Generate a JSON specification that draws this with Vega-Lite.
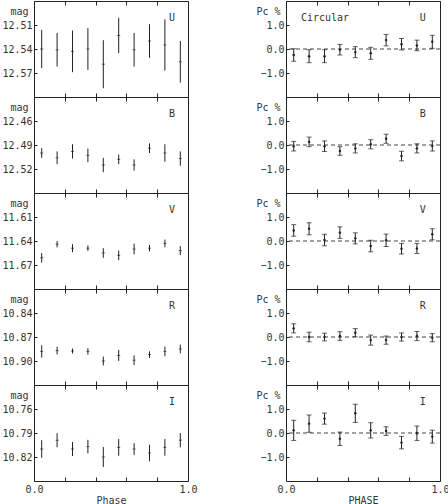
{
"$schema":"https://vega.github.io/schema/vega-lite/v6.json",
"padding":{"left":1,"top":0,"right":0,"bottom":0},
"background":"white",
"datasets":{
"phot":[
{"band":"U","phase":0.05,"mag":12.540,"err":0.024},
{"band":"U","phase":0.15,"mag":12.541,"err":0.021},
{"band":"U","phase":0.25,"mag":12.543,"err":0.026},
{"band":"U","phase":0.35,"mag":12.540,"err":0.026},
{"band":"U","phase":0.45,"mag":12.559,"err":0.030},
{"band":"U","phase":0.55,"mag":12.523,"err":0.022},
{"band":"U","phase":0.65,"mag":12.541,"err":0.021},
{"band":"U","phase":0.75,"mag":12.530,"err":0.021},
{"band":"U","phase":0.85,"mag":12.535,"err":0.032},
{"band":"U","phase":0.95,"mag":12.556,"err":0.026},
{"band":"B","phase":0.05,"mag":12.500,"err":0.006},
{"band":"B","phase":0.15,"mag":12.506,"err":0.008},
{"band":"B","phase":0.25,"mag":12.498,"err":0.009},
{"band":"B","phase":0.35,"mag":12.503,"err":0.0085},
{"band":"B","phase":0.45,"mag":12.515,"err":0.009},
{"band":"B","phase":0.55,"mag":12.508,"err":0.006},
{"band":"B","phase":0.65,"mag":12.515,"err":0.007},
{"band":"B","phase":0.75,"mag":12.494,"err":0.006},
{"band":"B","phase":0.85,"mag":12.500,"err":0.011},
{"band":"B","phase":0.95,"mag":12.507,"err":0.009},
{"band":"V","phase":0.05,"mag":11.661,"err":0.006},
{"band":"V","phase":0.15,"mag":11.644,"err":0.004},
{"band":"V","phase":0.25,"mag":11.649,"err":0.005},
{"band":"V","phase":0.35,"mag":11.649,"err":0.0035},
{"band":"V","phase":0.45,"mag":11.655,"err":0.006},
{"band":"V","phase":0.55,"mag":11.658,"err":0.006},
{"band":"V","phase":0.65,"mag":11.650,"err":0.0067},
{"band":"V","phase":0.75,"mag":11.649,"err":0.004},
{"band":"V","phase":0.85,"mag":11.643,"err":0.0048},
{"band":"V","phase":0.95,"mag":11.652,"err":0.0056},
{"band":"R","phase":0.05,"mag":10.888,"err":0.0077},
{"band":"R","phase":0.15,"mag":10.887,"err":0.0048},
{"band":"R","phase":0.25,"mag":10.8875,"err":0.003},
{"band":"R","phase":0.35,"mag":10.888,"err":0.004},
{"band":"R","phase":0.45,"mag":10.900,"err":0.0056},
{"band":"R","phase":0.55,"mag":10.893,"err":0.0069},
{"band":"R","phase":0.65,"mag":10.899,"err":0.006},
{"band":"R","phase":0.75,"mag":10.892,"err":0.004},
{"band":"R","phase":0.85,"mag":10.888,"err":0.006},
{"band":"R","phase":0.95,"mag":10.885,"err":0.0054},
{"band":"I","phase":0.05,"mag":10.810,"err":0.011},
{"band":"I","phase":0.15,"mag":10.799,"err":0.0088},
{"band":"I","phase":0.25,"mag":10.810,"err":0.0088},
{"band":"I","phase":0.35,"mag":10.807,"err":0.0085},
{"band":"I","phase":0.45,"mag":10.820,"err":0.0125},
{"band":"I","phase":0.55,"mag":10.808,"err":0.0104},
{"band":"I","phase":0.65,"mag":10.810,"err":0.0073},
{"band":"I","phase":0.75,"mag":10.815,"err":0.0104},
{"band":"I","phase":0.85,"mag":10.808,"err":0.0104},
{"band":"I","phase":0.95,"mag":10.799,"err":0.009}
],
"pol":[
{"band":"U","phase":0.05,"pc":-0.25,"err":0.26},
{"band":"U","phase":0.15,"pc":-0.30,"err":0.27},
{"band":"U","phase":0.25,"pc":-0.30,"err":0.27},
{"band":"U","phase":0.35,"pc":-0.03,"err":0.22},
{"band":"U","phase":0.45,"pc":-0.13,"err":0.23},
{"band":"U","phase":0.55,"pc":-0.18,"err":0.25},
{"band":"U","phase":0.65,"pc":0.37,"err":0.24},
{"band":"U","phase":0.75,"pc":0.20,"err":0.24},
{"band":"U","phase":0.85,"pc":0.15,"err":0.22},
{"band":"U","phase":0.95,"pc":0.30,"err":0.27},
{"band":"B","phase":0.05,"pc":-0.05,"err":0.20},
{"band":"B","phase":0.15,"pc":0.13,"err":0.20},
{"band":"B","phase":0.25,"pc":-0.05,"err":0.22},
{"band":"B","phase":0.35,"pc":-0.25,"err":0.18},
{"band":"B","phase":0.45,"pc":-0.14,"err":0.19},
{"band":"B","phase":0.55,"pc":0.03,"err":0.19},
{"band":"B","phase":0.65,"pc":0.26,"err":0.19},
{"band":"B","phase":0.75,"pc":-0.46,"err":0.20},
{"band":"B","phase":0.85,"pc":-0.14,"err":0.19},
{"band":"B","phase":0.95,"pc":-0.04,"err":0.21},
{"band":"V","phase":0.05,"pc":0.44,"err":0.24},
{"band":"V","phase":0.15,"pc":0.51,"err":0.25},
{"band":"V","phase":0.25,"pc":0.04,"err":0.24},
{"band":"V","phase":0.35,"pc":0.35,"err":0.24},
{"band":"V","phase":0.45,"pc":0.11,"err":0.23},
{"band":"V","phase":0.55,"pc":-0.21,"err":0.24},
{"band":"V","phase":0.65,"pc":0.03,"err":0.26},
{"band":"V","phase":0.75,"pc":-0.32,"err":0.22},
{"band":"V","phase":0.85,"pc":-0.31,"err":0.21},
{"band":"V","phase":0.95,"pc":0.28,"err":0.23},
{"band":"R","phase":0.05,"pc":0.36,"err":0.19},
{"band":"R","phase":0.15,"pc":0.00,"err":0.20},
{"band":"R","phase":0.25,"pc":0.00,"err":0.16},
{"band":"R","phase":0.35,"pc":0.04,"err":0.18},
{"band":"R","phase":0.45,"pc":0.18,"err":0.17},
{"band":"R","phase":0.55,"pc":-0.13,"err":0.21},
{"band":"R","phase":0.65,"pc":-0.13,"err":0.17},
{"band":"R","phase":0.75,"pc":0.00,"err":0.17},
{"band":"R","phase":0.85,"pc":0.04,"err":0.19},
{"band":"R","phase":0.95,"pc":-0.03,"err":0.17},
{"band":"I","phase":0.05,"pc":0.11,"err":0.42},
{"band":"I","phase":0.15,"pc":0.39,"err":0.36},
{"band":"I","phase":0.25,"pc":0.60,"err":0.23},
{"band":"I","phase":0.35,"pc":-0.24,"err":0.28},
{"band":"I","phase":0.45,"pc":0.82,"err":0.38},
{"band":"I","phase":0.55,"pc":0.11,"err":0.32},
{"band":"I","phase":0.65,"pc":0.08,"err":0.18},
{"band":"I","phase":0.75,"pc":-0.40,"err":0.26},
{"band":"I","phase":0.85,"pc":-0.01,"err":0.30},
{"band":"I","phase":0.95,"pc":-0.15,"err":0.27}
]
},
"config":{
"view":{"stroke":"#222","strokeWidth":1},
"axis":{"labelFont":"DejaVu Sans Mono","labelFontSize":10,"labelColor":"#333","titleFont":"DejaVu Sans Mono","titleFontSize":10,"titleFontWeight":"normal","titleColor":"#333","domain":false,"grid":false,"tickColor":"#222","labelFlush":false,"labelOverlap":false},
"axisX":{"ticks":false,"grid":true,"gridDash":[4,88],"gridColor":"#222","gridOpacity":1,"gridWidth":1,"values":[0,0.1,0.2,0.3,0.4,0.5,0.6,0.7,0.8,0.9,1],"labels":false,"title":null},
"axisY":{"tickSize":-3,"labelPadding":5,"titleAngle":0,"titleAlign":"right","titleBaseline":"middle","titleX":-6,"titleY":10},
"text":{"font":"DejaVu Sans Mono","fontSize":10,"color":"#333"}
},
"spacing":57,
"hconcat":[
{"spacing":0,"bounds":"flush","vconcat":[
{"width":154,"height":96,"data":{"name":"phot"},"transform":[{"filter":"datum.band==='U'"}],
"layer":[
{"mark":{"type":"tick","orient":"horizontal","size":3,"thickness":1,"color":"#222"},
"encoding":{"x":{"field":"phase","type":"quantitative","scale":{"domain":[0,1]},"axis":{"title":null}},
"y":{"field":"mag","type":"quantitative","scale":{"domain":[12.48,12.6],"reverse":true},"axis":{"values":[12.51,12.54,12.57],"format":".2f","title":"mag"}}}},
{"mark":{"type":"errorbar","color":"#222","thickness":1},
"encoding":{"x":{"field":"phase","type":"quantitative","scale":{"domain":[0,1]}},
"y":{"field":"mag","type":"quantitative","scale":{"domain":[12.48,12.6],"reverse":true},"title":"mag"},
"yError":{"field":"err"}}},
{"data":{"values":[{}]},"mark":{"type":"text","align":"center","baseline":"middle"},
"encoding":{"x":{"datum":0.896,"type":"quantitative","scale":{"domain":[0,1]}},"y":{"datum":12.501,"type":"quantitative","scale":{"domain":[12.48,12.6],"reverse":true}},"text":{"value":"U"}}}
]},
{"width":154,"height":96,"data":{"name":"phot"},"transform":[{"filter":"datum.band==='B'"}],
"layer":[
{"mark":{"type":"tick","orient":"horizontal","size":3,"thickness":1,"color":"#222"},
"encoding":{"x":{"field":"phase","type":"quantitative","scale":{"domain":[0,1]},"axis":{"title":null}},
"y":{"field":"mag","type":"quantitative","scale":{"domain":[12.43,12.55],"reverse":true},"axis":{"values":[12.46,12.49,12.52],"format":".2f","title":"mag"}}}},
{"mark":{"type":"errorbar","color":"#222","thickness":1},
"encoding":{"x":{"field":"phase","type":"quantitative","scale":{"domain":[0,1]}},
"y":{"field":"mag","type":"quantitative","scale":{"domain":[12.43,12.55],"reverse":true},"title":"mag"},
"yError":{"field":"err"}}},
{"data":{"values":[{}]},"mark":{"type":"text","align":"center","baseline":"middle"},
"encoding":{"x":{"datum":0.896,"type":"quantitative","scale":{"domain":[0,1]}},"y":{"datum":12.451,"type":"quantitative","scale":{"domain":[12.43,12.55],"reverse":true}},"text":{"value":"B"}}}
]},
{"width":154,"height":96,"data":{"name":"phot"},"transform":[{"filter":"datum.band==='V'"}],
"layer":[
{"mark":{"type":"tick","orient":"horizontal","size":3,"thickness":1,"color":"#222"},
"encoding":{"x":{"field":"phase","type":"quantitative","scale":{"domain":[0,1]},"axis":{"title":null}},
"y":{"field":"mag","type":"quantitative","scale":{"domain":[11.58,11.70],"reverse":true},"axis":{"values":[11.61,11.64,11.67],"format":".2f","title":"mag"}}}},
{"mark":{"type":"errorbar","color":"#222","thickness":1},
"encoding":{"x":{"field":"phase","type":"quantitative","scale":{"domain":[0,1]}},
"y":{"field":"mag","type":"quantitative","scale":{"domain":[11.58,11.70],"reverse":true},"title":"mag"},
"yError":{"field":"err"}}},
{"data":{"values":[{}]},"mark":{"type":"text","align":"center","baseline":"middle"},
"encoding":{"x":{"datum":0.896,"type":"quantitative","scale":{"domain":[0,1]}},"y":{"datum":11.601,"type":"quantitative","scale":{"domain":[11.58,11.70],"reverse":true}},"text":{"value":"V"}}}
]},
{"width":154,"height":96,"data":{"name":"phot"},"transform":[{"filter":"datum.band==='R'"}],
"layer":[
{"mark":{"type":"tick","orient":"horizontal","size":3,"thickness":1,"color":"#222"},
"encoding":{"x":{"field":"phase","type":"quantitative","scale":{"domain":[0,1]},"axis":{"title":null}},
"y":{"field":"mag","type":"quantitative","scale":{"domain":[10.81,10.93],"reverse":true},"axis":{"values":[10.84,10.87,10.90],"format":".2f","title":"mag"}}}},
{"mark":{"type":"errorbar","color":"#222","thickness":1},
"encoding":{"x":{"field":"phase","type":"quantitative","scale":{"domain":[0,1]}},
"y":{"field":"mag","type":"quantitative","scale":{"domain":[10.81,10.93],"reverse":true},"title":"mag"},
"yError":{"field":"err"}}},
{"data":{"values":[{}]},"mark":{"type":"text","align":"center","baseline":"middle"},
"encoding":{"x":{"datum":0.896,"type":"quantitative","scale":{"domain":[0,1]}},"y":{"datum":10.831,"type":"quantitative","scale":{"domain":[10.81,10.93],"reverse":true}},"text":{"value":"R"}}}
]},
{"width":154,"height":96,"data":{"name":"phot"},"transform":[{"filter":"datum.band==='I'"}],
"layer":[
{"mark":{"type":"tick","orient":"horizontal","size":3,"thickness":1,"color":"#222"},
"encoding":{"x":{"field":"phase","type":"quantitative","scale":{"domain":[0,1]},"axis":{"labels":true,"labelPadding":3,"labelExpr":"round(datum.value*10) % 5 == 0 ? format(datum.value, '.1f') : ''","title":"Phase","titlePadding":1}},
"y":{"field":"mag","type":"quantitative","scale":{"domain":[10.73,10.85],"reverse":true},"axis":{"values":[10.76,10.79,10.82],"format":".2f","title":"mag"}}}},
{"mark":{"type":"errorbar","color":"#222","thickness":1},
"encoding":{"x":{"field":"phase","type":"quantitative","scale":{"domain":[0,1]}},
"y":{"field":"mag","type":"quantitative","scale":{"domain":[10.73,10.85],"reverse":true},"title":"mag"},
"yError":{"field":"err"}}},
{"data":{"values":[{}]},"mark":{"type":"text","align":"center","baseline":"middle"},
"encoding":{"x":{"datum":0.896,"type":"quantitative","scale":{"domain":[0,1]}},"y":{"datum":10.751,"type":"quantitative","scale":{"domain":[10.73,10.85],"reverse":true}},"text":{"value":"I"}}}
]}
]},
{"spacing":0,"bounds":"flush","vconcat":[
{"width":154,"height":96,"data":{"name":"pol"},"transform":[{"filter":"datum.band==='U'"}],
"layer":[
{"mark":{"type":"point","filled":true,"size":6,"color":"#222","opacity":1},
"encoding":{"x":{"field":"phase","type":"quantitative","scale":{"domain":[0,1]},"axis":{"title":null}},
"y":{"field":"pc","type":"quantitative","scale":{"domain":[-2,2]},"axis":{"values":[-1,0,1],"format":".1f","title":"Pc %"}}}},
{"data":{"values":[{}]},"mark":{"type":"rule","color":"#444","strokeDash":[4,3],"strokeWidth":1},"encoding":{"y":{"datum":0,"type":"quantitative","scale":{"domain":[-2,2]}}}},
{"mark":{"type":"errorbar","color":"#222","thickness":1,"ticks":{"size":5}},
"encoding":{"x":{"field":"phase","type":"quantitative","scale":{"domain":[0,1]}},
"y":{"field":"pc","type":"quantitative","scale":{"domain":[-2,2]},"title":"Pc %"},
"yError":{"field":"err"}}},
{"data":{"values":[{}]},"mark":{"type":"text","align":"left","baseline":"middle"},
"encoding":{"x":{"datum":0.097,"type":"quantitative","scale":{"domain":[0,1]}},"y":{"datum":1.3,"type":"quantitative","scale":{"domain":[-2,2]}},"text":{"value":"Circular"}}},
{"data":{"values":[{}]},"mark":{"type":"text","align":"center","baseline":"middle"},
"encoding":{"x":{"datum":0.888,"type":"quantitative","scale":{"domain":[0,1]}},"y":{"datum":1.3,"type":"quantitative","scale":{"domain":[-2,2]}},"text":{"value":"U"}}}
]},
{"width":154,"height":96,"data":{"name":"pol"},"transform":[{"filter":"datum.band==='B'"}],
"layer":[
{"mark":{"type":"point","filled":true,"size":6,"color":"#222","opacity":1},
"encoding":{"x":{"field":"phase","type":"quantitative","scale":{"domain":[0,1]},"axis":{"title":null}},
"y":{"field":"pc","type":"quantitative","scale":{"domain":[-2,2]},"axis":{"values":[-1,0,1],"format":".1f","title":"Pc %"}}}},
{"data":{"values":[{}]},"mark":{"type":"rule","color":"#444","strokeDash":[4,3],"strokeWidth":1},"encoding":{"y":{"datum":0,"type":"quantitative","scale":{"domain":[-2,2]}}}},
{"mark":{"type":"errorbar","color":"#222","thickness":1,"ticks":{"size":5}},
"encoding":{"x":{"field":"phase","type":"quantitative","scale":{"domain":[0,1]}},
"y":{"field":"pc","type":"quantitative","scale":{"domain":[-2,2]},"title":"Pc %"},
"yError":{"field":"err"}}},
{"data":{"values":[{}]},"mark":{"type":"text","align":"center","baseline":"middle"},
"encoding":{"x":{"datum":0.888,"type":"quantitative","scale":{"domain":[0,1]}},"y":{"datum":1.3,"type":"quantitative","scale":{"domain":[-2,2]}},"text":{"value":"B"}}}
]},
{"width":154,"height":96,"data":{"name":"pol"},"transform":[{"filter":"datum.band==='V'"}],
"layer":[
{"mark":{"type":"point","filled":true,"size":6,"color":"#222","opacity":1},
"encoding":{"x":{"field":"phase","type":"quantitative","scale":{"domain":[0,1]},"axis":{"title":null}},
"y":{"field":"pc","type":"quantitative","scale":{"domain":[-2,2]},"axis":{"values":[-1,0,1],"format":".1f","title":"Pc %"}}}},
{"data":{"values":[{}]},"mark":{"type":"rule","color":"#444","strokeDash":[4,3],"strokeWidth":1},"encoding":{"y":{"datum":0,"type":"quantitative","scale":{"domain":[-2,2]}}}},
{"mark":{"type":"errorbar","color":"#222","thickness":1,"ticks":{"size":5}},
"encoding":{"x":{"field":"phase","type":"quantitative","scale":{"domain":[0,1]}},
"y":{"field":"pc","type":"quantitative","scale":{"domain":[-2,2]},"title":"Pc %"},
"yError":{"field":"err"}}},
{"data":{"values":[{}]},"mark":{"type":"text","align":"center","baseline":"middle"},
"encoding":{"x":{"datum":0.888,"type":"quantitative","scale":{"domain":[0,1]}},"y":{"datum":1.3,"type":"quantitative","scale":{"domain":[-2,2]}},"text":{"value":"V"}}}
]},
{"width":154,"height":96,"data":{"name":"pol"},"transform":[{"filter":"datum.band==='R'"}],
"layer":[
{"mark":{"type":"point","filled":true,"size":6,"color":"#222","opacity":1},
"encoding":{"x":{"field":"phase","type":"quantitative","scale":{"domain":[0,1]},"axis":{"title":null}},
"y":{"field":"pc","type":"quantitative","scale":{"domain":[-2,2]},"axis":{"values":[-1,0,1],"format":".1f","title":"Pc %"}}}},
{"data":{"values":[{}]},"mark":{"type":"rule","color":"#444","strokeDash":[4,3],"strokeWidth":1},"encoding":{"y":{"datum":0,"type":"quantitative","scale":{"domain":[-2,2]}}}},
{"mark":{"type":"errorbar","color":"#222","thickness":1,"ticks":{"size":5}},
"encoding":{"x":{"field":"phase","type":"quantitative","scale":{"domain":[0,1]}},
"y":{"field":"pc","type":"quantitative","scale":{"domain":[-2,2]},"title":"Pc %"},
"yError":{"field":"err"}}},
{"data":{"values":[{}]},"mark":{"type":"text","align":"center","baseline":"middle"},
"encoding":{"x":{"datum":0.888,"type":"quantitative","scale":{"domain":[0,1]}},"y":{"datum":1.3,"type":"quantitative","scale":{"domain":[-2,2]}},"text":{"value":"R"}}}
]},
{"width":154,"height":96,"data":{"name":"pol"},"transform":[{"filter":"datum.band==='I'"}],
"layer":[
{"mark":{"type":"point","filled":true,"size":6,"color":"#222","opacity":1},
"encoding":{"x":{"field":"phase","type":"quantitative","scale":{"domain":[0,1]},"axis":{"labels":true,"labelPadding":3,"labelExpr":"round(datum.value*10) % 5 == 0 ? format(datum.value, '.1f') : ''","title":"PHASE","titlePadding":1}},
"y":{"field":"pc","type":"quantitative","scale":{"domain":[-2,2]},"axis":{"values":[-1,0,1],"format":".1f","title":"Pc %"}}}},
{"data":{"values":[{}]},"mark":{"type":"rule","color":"#444","strokeDash":[4,3],"strokeWidth":1},"encoding":{"y":{"datum":0,"type":"quantitative","scale":{"domain":[-2,2]}}}},
{"mark":{"type":"errorbar","color":"#222","thickness":1,"ticks":{"size":5}},
"encoding":{"x":{"field":"phase","type":"quantitative","scale":{"domain":[0,1]}},
"y":{"field":"pc","type":"quantitative","scale":{"domain":[-2,2]},"title":"Pc %"},
"yError":{"field":"err"}}},
{"data":{"values":[{}]},"mark":{"type":"text","align":"center","baseline":"middle"},
"encoding":{"x":{"datum":0.888,"type":"quantitative","scale":{"domain":[0,1]}},"y":{"datum":1.3,"type":"quantitative","scale":{"domain":[-2,2]}},"text":{"value":"I"}}}
]}
]}
]
}
